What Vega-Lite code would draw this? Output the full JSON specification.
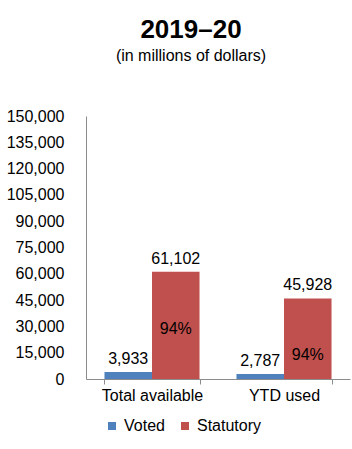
{
  "$schema": "https://vega.github.io/schema/vega-lite/v6.json",
  "width": 264,
  "height": 263,
  "autosize": "none",
  "padding": {"left": 86, "top": 116, "right": 2, "bottom": 70},
  "background": "white",
  "title": {
    "text": "2019–20",
    "subtitle": "(in millions of dollars)",
    "fontSize": 26,
    "fontWeight": "bold",
    "color": "black",
    "subtitleColor": "black",
    "subtitleFontSize": 16,
    "subtitlePadding": 5,
    "anchor": "middle",
    "dx": -27,
    "offset": 44
  },
  "data": {
    "values": [
      {"group": "Total available", "type": "Voted", "value": 3933},
      {"group": "Total available", "type": "Statutory", "value": 61102, "pct": "94%"},
      {"group": "YTD used", "type": "Voted", "value": 2787},
      {"group": "YTD used", "type": "Statutory", "value": 45928, "pct": "94%"}
    ]
  },
  "encoding": {
    "x": {
      "field": "group",
      "type": "nominal",
      "sort": ["Total available", "YTD used"],
      "scale": {"paddingInner": 0.28, "paddingOuter": 0.14},
      "axis": {
        "title": null,
        "labelAngle": 0,
        "labelFontSize": 16,
        "labelColor": "black",
        "labelPadding": 3,
        "domainColor": "#8c8c8c",
        "tickColor": "#8c8c8c",
        "tickSize": 5,
        "tickBand": "extent",
        "grid": false
      }
    },
    "xOffset": {"field": "type", "type": "nominal", "sort": ["Voted", "Statutory"]},
    "y": {
      "field": "value",
      "type": "quantitative",
      "scale": {"domain": [0, 150000], "nice": false},
      "axis": {
        "title": null,
        "values": [0, 15000, 30000, 45000, 60000, 75000, 90000, 105000, 120000, 135000, 150000],
        "format": ",.0f",
        "grid": false,
        "ticks": false,
        "labelPadding": 22,
        "labelFontSize": 16,
        "labelColor": "black",
        "domainColor": "#8c8c8c"
      }
    }
  },
  "layer": [
    {
      "mark": {"type": "bar"},
      "encoding": {
        "color": {
          "field": "type",
          "type": "nominal",
          "sort": ["Voted", "Statutory"],
          "scale": {"domain": ["Voted", "Statutory"], "range": ["#4F81BD", "#C0504D"]},
          "legend": {
            "title": null,
            "orient": "none",
            "legendX": 18,
            "legendY": 302,
            "direction": "horizontal",
            "symbolType": "square",
            "symbolSize": 64,
            "symbolStrokeWidth": 0,
            "labelFontSize": 16,
            "labelColor": "black",
            "labelOffset": 4,
            "columnPadding": 12
          }
        }
      }
    },
    {
      "mark": {"type": "text", "baseline": "bottom", "dy": -5, "fontSize": 16, "color": "black"},
      "encoding": {"text": {"field": "value", "type": "quantitative", "format": ",.0f"}}
    },
    {
      "transform": [{"filter": "datum.pct != null"}],
      "mark": {"type": "text", "baseline": "middle", "dy": 57, "fontSize": 16, "color": "black"},
      "encoding": {"text": {"field": "pct", "type": "nominal"}}
    }
  ],
  "config": {
    "font": "Liberation Sans",
    "view": {"stroke": null}
  }
}
